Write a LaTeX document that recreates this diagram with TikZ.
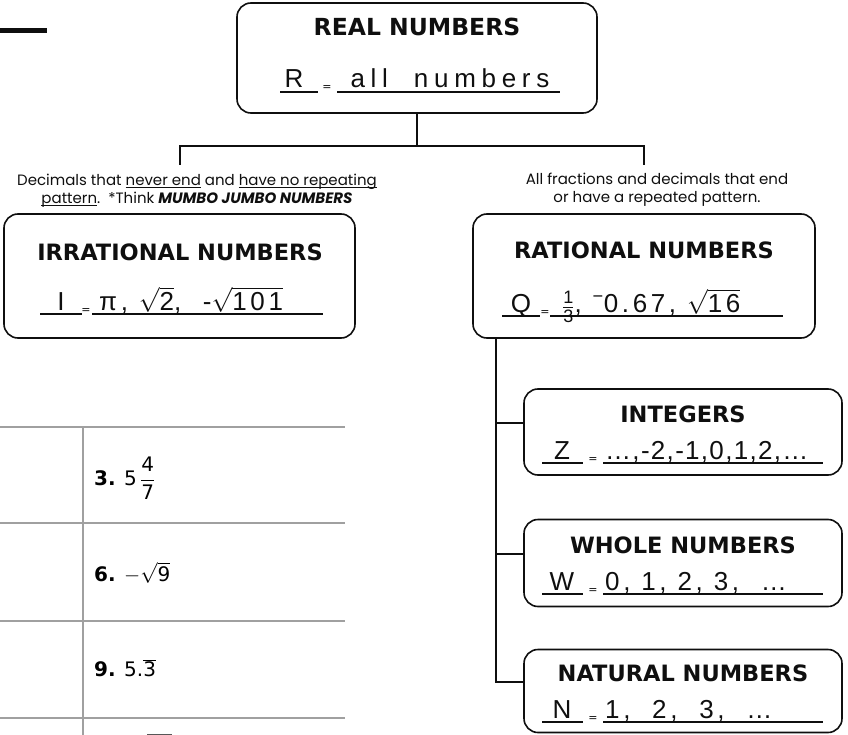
\documentclass[tikz,border=0pt]{standalone}
\usepackage{fontspec}
\setmainfont{DejaVu Sans}
\newfontfamily\notefont{Poppins}
\newfontfamily\handfont[LetterSpace=14]{Liberation Sans}
\newcommand\lineunder[1]{\underline{\smash{#1}}}
\usetikzlibrary{positioning,calc}
\definecolor{ink}{RGB}{15,15,15}
\definecolor{gridgray}{RGB}{160,160,160}
\tikzset{
  setbox/.style={draw=ink,line width=1.6pt,rounded corners=14pt,inner sep=0pt,
    minimum width=#1},
  settitle/.style={font=\fontsize{22.5}{22.5}\selectfont\bfseries,text=ink,inner sep=0pt},
  hand/.style={font=\handfont\fontsize{26}{26}\selectfont,text=ink,inner sep=0pt,anchor=base},
  eqmark/.style={font=\fontsize{11}{11}\selectfont,text=ink,inner sep=0pt,anchor=base},
  blank/.style={draw=ink,line width=1.2pt},
  link/.style={draw=ink,line width=1.6pt},
  note/.style={font=\notefont\fontsize{15}{18}\selectfont,align=center,text=ink,inner sep=0pt},
  gridline/.style={draw=gridgray,line width=1.3pt},
  item/.style={font=\fontsize{20}{20}\selectfont,anchor=west,inner sep=0pt},
}

\begin{document}
\begin{tikzpicture}[x=1pt,y=-1pt]
  \useasboundingbox (0,0) rectangle (848,735);
  \draw[ink,line width=5pt] (0,31) -- (47,31);

  % real numbers
  \node[setbox=360,minimum height=110] (real) at (417,58) {};
  \node[settitle,font=\fontsize{23.5}{23.5}\selectfont\bfseries] (real-title) at (417,27) {REAL NUMBERS};
  \node[hand] (real-sym) at (294,88) {R};
  \node[eqmark] (real-eq) at (327,91) {=};
  \node[hand] (real-ans) at (450,88) {\addfontfeature{LetterSpace=22}all\ \ numbers};
  \draw[blank] (280,92) -- (318,92) (337,92) -- (560,92);

  % the two halves
  \node[note] (irr-note) at (197,190) {Decimals that \lineunder{never end} and \lineunder{have no repeating}\\
    \lineunder{pattern}.\ \ *Think \textbf{\textit{MUMBO JUMBO NUMBERS}}};
  \node[note] (rat-note) at (657,190) {All fractions and decimals that end\\or have a repeated pattern.};
  \coordinate (irr-tip) at (180,165);
  \coordinate (rat-tip) at (644,165);
  \draw[link] (real.south) -- ++(0,32) coordinate (fork);
  \draw[link] (irr-tip) |- (fork) -| (rat-tip);

  \node[setbox=351,minimum height=124] (irr) at (179.5,276) {};
  \node[settitle] (irr-title) at (180,252) {IRRATIONAL NUMBERS};
  \node[hand] (irr-sym) at (61,310) {I};
  \node[eqmark] (irr-eq) at (86,313) {=};
  \node[hand,anchor=base west] (irr-ans) at (99,310) {π,\ $\sqrt{\mbox{2}}$,\ \ -$\sqrt{\mbox{101}}$};
  \draw[blank] (40,314) -- (82,314) (92,314) -- (323,314);

  \node[setbox=342,minimum height=124] (rat) at (644,276) {};
  \node[settitle] (rat-title) at (644,250) {RATIONAL NUMBERS};
  \node[hand] (rat-sym) at (521,312) {Q};
  \node[eqmark] (rat-eq) at (545,315) {=};
  \node[hand,anchor=base west] (rat-ans) at (562,312) {{\fontsize{18}{18}\selectfont$\frac{\raisebox{2pt}{1}}{\mbox{3}\rule{0pt}{14pt}}$},\ \textsuperscript{−}0.67,\ $\sqrt{\mbox{16}}$};
  \draw[blank] (502,316) -- (540,316) (550,316) -- (783,316);

  % subsets of the rationals
  \coordinate (rat-stem) at ([xshift=24pt]rat.south west);
  \foreach \n/\cy/\h/\t/\s/\a in {int/432/86/INTEGERS/Z/{\addfontfeature{LetterSpace=5}…,-2,-1,0,1,2,…},
      whole/563/87/WHOLE NUMBERS/W/{0,\ 1,\ 2,\ 3,\ \ …},
      nat/691/83/NATURAL NUMBERS/N/{1,\ \ 2,\ \ 3,\ \ …}}{
    \node[setbox=318,minimum height=\h] (\n) at (683,\cy) {};
    \node[settitle] (\n-title) at (683,\cy-18) {\t};
    \node[hand] (\n-sym) at (562,\cy+27) {\s};
    \node[eqmark] (\n-eq) at (593,\cy+30) {=};
    \node[hand,anchor=base west] (\n-ans) at (605,\cy+27) {\a};
    \draw[blank] (542,\cy+31) -- (583,\cy+31) (603,\cy+31) -- (823,\cy+31);
    \draw[link] (rat-stem) |- ([yshift=9pt]\n.west);
  }

  % exercise table
  \foreach \y in {427,523,621,718}
    \draw[gridline] (0,\y) -- (345,\y);
  \draw[gridline] (83,427) -- (83,735);
  \node[item] (q3) at (94,478) {\textbf{3.} 5\,$\displaystyle\frac{\mbox{4}}{\mbox{7}}$};
  \node[item] (q6) at (94,573) {\textbf{6.} $-\sqrt{\mbox{9}}$};
  \node[item] (q9) at (94,668) {\textbf{9.} 5.$\overline{\mbox{3}}$};
  \draw[ink!70,line width=1pt] (147,734) -- (172,734);
\end{tikzpicture}
\end{document}
